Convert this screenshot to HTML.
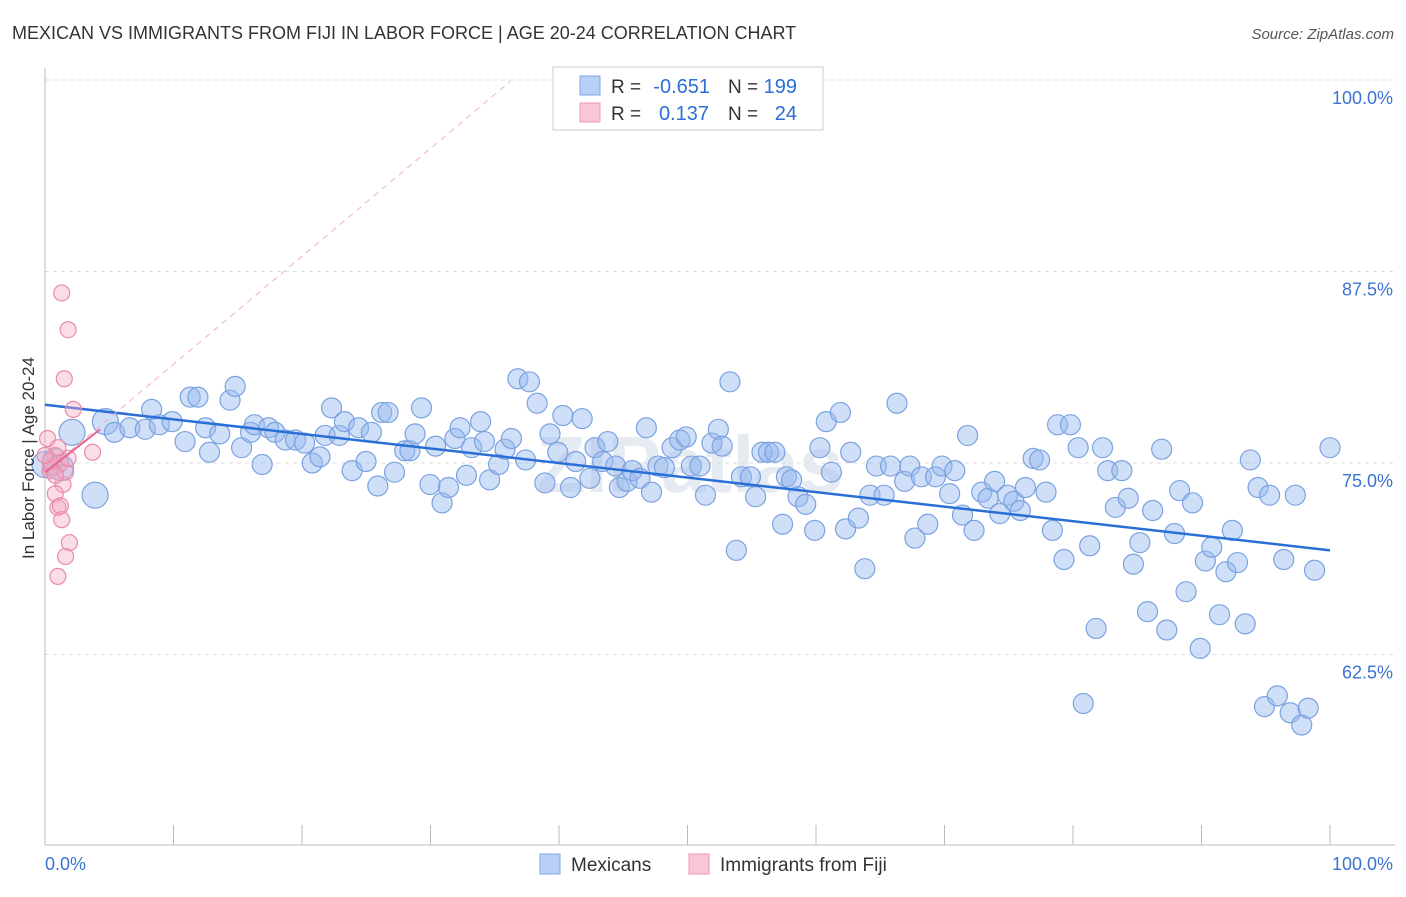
<!DOCTYPE html>
<html><head><meta charset="utf-8"><style>
body{margin:0;background:#fff;font-family:"Liberation Sans",sans-serif}
svg text{font-family:"Liberation Sans",sans-serif}
</style></head><body>
<svg width="1406" height="892" viewBox="0 0 1406 892">
<text x="12" y="39" font-size="18" fill="#333">MEXICAN VS IMMIGRANTS FROM FIJI IN LABOR FORCE | AGE 20-24 CORRELATION CHART</text>
<text x="1394" y="39" font-size="15" fill="#555" font-style="italic" text-anchor="end">Source: ZipAtlas.com</text>
<text x="690" y="492" font-size="80" fill="#e6ebf2" text-anchor="middle" font-weight="bold">ZIPatlas</text>
<g id="grid"></g><g id="axes"></g><g id="marks"></g>
<text transform="translate(34,458) rotate(-90)" font-size="17" fill="#333" text-anchor="middle">In Labor Force | Age 20-24</text>
<g>
<rect x="553" y="67" width="270" height="63" fill="#fff" stroke="#ccc"/>
<rect x="580" y="76" width="20" height="19" fill="#b8d0f5" stroke="#7fa6e0"/>
<rect x="580" y="103" width="20" height="19" fill="#f9c6d5" stroke="#ec9ab3"/>
<text x="611" y="93" font-size="19" fill="#333">R =</text>
<text x="710" y="93" font-size="20" fill="#2a6fd6" text-anchor="end">-0.651</text>
<text x="728" y="93" font-size="19" fill="#333">N =</text>
<text x="797" y="93" font-size="20" fill="#2a6fd6" text-anchor="end">199</text>
<text x="611" y="120" font-size="19" fill="#333">R =</text>
<text x="709" y="120" font-size="20" fill="#2a6fd6" text-anchor="end">0.137</text>
<text x="728" y="120" font-size="19" fill="#333">N =</text>
<text x="797" y="120" font-size="20" fill="#2a6fd6" text-anchor="end">24</text>
</g>
<g>
<rect x="540" y="854" width="20" height="20" fill="#b8d0f5" stroke="#7fa6e0"/>
<text x="571" y="871" font-size="19" fill="#333">Mexicans</text>
<rect x="689" y="854" width="20" height="20" fill="#f9c6d5" stroke="#ec9ab3"/>
<text x="720" y="871" font-size="19" fill="#333">Immigrants from Fiji</text>
</g>
</svg>
<script>
const yTicks=[100,87.5,75,62.5];
const yTickLabels=["100.0%","87.5%","75.0%","62.5%"];
const blueX=[3.9,2.1,4.7,5.4,6.6,7.8,8.3,8.9,9.9,10.9,11.3,11.9,12.5,12.8,13.6,14.4,14.8,15.3,16.0,16.3,16.9,17.4,17.9,18.7,19.5,20.2,20.8,21.4,21.8,22.3,22.9,23.3,23.9,24.4,24.98,25.4,25.9,26.2,26.7,27.2,28.0,28.4,28.8,29.3,29.96,30.4,30.9,31.4,31.9,32.3,32.8,33.2,33.9,34.2,34.6,35.3,35.8,36.3,36.8,37.4,37.7,38.3,38.9,39.3,39.9,40.3,40.9,41.3,41.8,42.4,42.8,43.4,43.8,44.4,44.7,45.3,45.7,46.3,46.8,47.2,47.7,48.2,48.8,49.4,49.9,50.3,50.97,51.4,51.9,52.4,52.7,53.3,53.8,54.2,54.9,55.3,55.8,56.3,56.8,57.4,57.7,58.1,58.6,59.2,59.9,60.3,60.8,61.2,61.9,62.3,62.7,63.3,63.8,64.2,64.7,65.3,65.8,66.3,66.9,67.3,67.7,68.2,68.7,69.3,69.8,70.4,70.8,71.4,71.8,72.3,72.9,73.4,73.9,74.3,74.9,75.4,75.9,76.3,76.9,77.4,77.9,78.4,78.8,79.3,79.8,80.4,80.8,81.3,81.8,82.3,82.7,83.3,83.8,84.3,84.7,85.2,85.8,86.2,86.9,87.3,87.9,88.3,88.8,89.3,89.9,90.3,90.8,91.4,91.9,92.4,92.8,93.4,93.8,94.4,94.9,95.3,95.9,96.4,96.9,97.3,97.8,98.3,98.8,100,0,0.8,1.2];
const blueY=[72.9,77.0,77.7,77.0,77.3,77.2,78.5,77.5,77.7,76.4,79.3,79.3,77.3,75.7,76.9,79.1,80.0,76.0,77.0,77.5,74.9,77.3,77.0,76.5,76.5,76.3,75.0,75.4,76.8,78.6,76.8,77.7,74.5,77.3,75.1,77.0,73.5,78.3,78.3,74.4,75.8,75.8,76.9,78.6,73.6,76.1,72.4,73.4,76.6,77.3,74.2,76.0,77.7,76.4,73.9,74.9,75.9,76.6,80.5,75.2,80.3,78.9,73.7,76.9,75.7,78.1,73.4,75.1,77.9,74.0,76.0,75.1,76.4,74.8,73.4,73.8,74.5,74.0,77.3,73.1,74.8,74.7,76.0,76.5,76.7,74.8,74.8,72.9,76.3,77.2,76.1,80.3,69.3,74.1,74.1,72.8,75.7,75.7,75.7,71.0,74.1,73.9,72.8,72.3,70.6,76.0,77.7,74.4,78.3,70.7,75.7,71.4,68.1,72.9,74.8,72.9,74.8,78.9,73.8,74.8,70.1,74.1,71.0,74.1,74.8,73.0,74.5,71.6,76.8,70.6,73.1,72.7,73.8,71.7,72.9,72.5,71.9,73.4,75.3,75.2,73.1,70.6,77.5,68.7,77.5,76.0,59.3,69.6,64.2,76.0,74.5,72.1,74.5,72.7,68.4,69.8,65.3,71.9,75.9,64.1,70.4,73.2,66.6,72.4,62.9,68.6,69.5,65.1,67.9,70.6,68.5,64.5,75.2,73.4,59.1,72.9,59.8,68.7,58.7,72.9,57.9,59.0,68.0,76.0,74.9,75.1,74.7];
const pinkX=[1.3,1.8,1.5,2.2,0.2,3.7,0.8,1.2,0.4,1.4,0.8,1.0,1.2,1.3,1.9,1.6,1.0,0.5,1.6,0.8,0.4,1.8,0,1.0];
const pinkY=[86.1,83.7,80.5,78.5,76.6,75.7,75.5,75.0,74.5,73.6,73.0,72.1,72.2,71.3,69.8,68.9,67.6,74.7,74.4,74.2,75.1,75.3,75.5,76.0];
const blueTrend=[[0,78.8],[100,69.3]];
const pinkTrend=[[0,74.4],[4.3,77.2]];
const pinkDash=[[0,74.4],[36.2,99.9]];
const NS="http://www.w3.org/2000/svg";
const X=v=>45+v*12.85, Y=v=>80+(100-v)*15.32;
function mk(tag,at,parent){const e=document.createElementNS(NS,tag);for(const k in at)e.setAttribute(k,at[k]);document.getElementById(parent).appendChild(e);return e;}
yTicks.forEach((t,i)=>{
 const l=mk('line',{x1:45,x2:1395,y1:Y(t),y2:Y(t),stroke:'#ddd','stroke-dasharray':'4,4'},'grid');
 
 
 const tx=mk('text',{x:1393,y:Y(t)+24,'font-size':18,fill:'#3b73d1','text-anchor':'end'},'grid');
 tx.textContent=yTickLabels[i];
 
 
});
let a=mk('line',{x1:45,x2:1395,y1:845,y2:845,stroke:'#bbb'},'axes');


a=mk('line',{x1:45,x2:45,y1:68,y2:845,stroke:'#bbb'},'axes');


for(let k=1;k<=10;k++){const t=mk('line',{x1:X(k*10),x2:X(k*10),y1:825,y2:845,stroke:'#bbb'},'axes');
 
 }
[["0.0%",45,'start'],["100.0%",1393,'end']].forEach(d=>{const t=mk('text',{x:d[1],y:870,'font-size':18,fill:'#3b73d1','text-anchor':d[2]},'axes');t.textContent=d[0];
 
 });
blueX.forEach((x,i)=>{const big=(x<5&&i<3)||i>=blueX.length-3;const c=mk('circle',{cx:X(x),cy:Y(blueY[i]),r:big?13:10,fill:'rgba(150,185,240,0.45)',stroke:'#7aa2e0','stroke-width':1.2},'marks');
 
 });
let l=mk('line',{x1:X(blueTrend[0][0]),y1:Y(blueTrend[0][1]),x2:X(blueTrend[1][0]),y2:Y(blueTrend[1][1]),stroke:'#2a6fd6','stroke-width':2.5},'marks');


l=mk('line',{x1:X(pinkDash[0][0]),y1:Y(pinkDash[0][1]),x2:X(pinkDash[1][0]),y2:Y(pinkDash[1][1]),stroke:'#f0b0c4','stroke-width':1,'stroke-dasharray':'6,5'},'marks');


pinkX.forEach((x,i)=>{const c=mk('circle',{cx:X(x),cy:Y(pinkY[i]),r:8,fill:'rgba(245,170,195,0.4)',stroke:'#e98aa9','stroke-width':1.2},'marks');
 
 });
l=mk('line',{x1:X(pinkTrend[0][0]),y1:Y(pinkTrend[0][1]),x2:X(pinkTrend[1][0]),y2:Y(pinkTrend[1][1]),stroke:'#e4688f','stroke-width':2},'marks');


</script>
</body></html>
